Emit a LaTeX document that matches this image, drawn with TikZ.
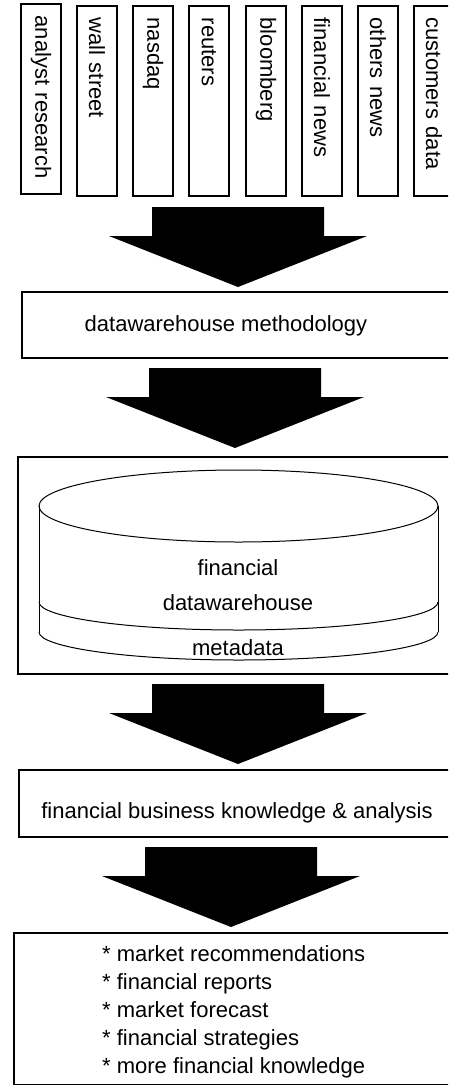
\documentclass[tikz,border=0pt]{standalone}
\usepackage{fontspec}
\setmainfont{Liberation Sans}

\begin{document}
\begin{tikzpicture}[x=1pt,y=-1pt,
		every node/.style={font=\fontsize{22}{28}\selectfont,inner sep=0pt},
		srcbox/.style={draw,line width=1.5pt,rotate=-90,anchor=west,minimum height=40pt,text width=166pt,inner xsep=12pt,align=left},
		box/.style={draw,line width=1.5pt,anchor=north west,minimum width=450pt},
		cyl/.style={line width=1pt},
		fatarrow/.pic={\fill (-86,-80) -- (86,-80) -- (86,-51) -- (129,-51) -- (0,0) -- (-129,-51) -- (-86,-51) -- cycle;}]
		\useasboundingbox (0,0) rectangle (448,1085);
		\clip (0,0) rectangle (448,1085);
		\fill[white] (0,0) rectangle (448,1085);

		%les sources, texte de haut en bas
		\node (src 1) at(41,3) [srcbox] {analyst research};
		\node (src 2) at(97,5) [srcbox] {wall street};
		\node (src 3) at(153,5) [srcbox] {nasdaq};
		\node (src 4) at(209,5) [srcbox] {reuters};
		\node (src 5) at(266,5) [srcbox] {bloomberg};
		\node (src 6) at(322,5) [srcbox] {financial news};
		\node (src 7) at(378,5) [srcbox] {others news};
		\node (src 8) at(434,5) [srcbox] {customers data};

		%les boites, le bord droit sort de l'image
		\node (methodology) at(21,291) [box,minimum height=66pt] {};
		\node (methodology text) at(226,331) [anchor=base] {datawarehouse methodology};

		\node (store) at(17,456) [box,minimum height=217pt] {};

		\node (knowledge) at(18,769) [box,minimum height=67pt] {};
		\node (knowledge text) at(237,818) [anchor=base] {financial business knowledge \& analysis};

		\node (results) at(13,932) [box,minimum height=152pt] {};
		\node (results text) at(102,945) [anchor=north west,align=left] {%
			* market recommendations\\
			* financial reports\\
			* market forecast\\
			* financial strategies\\
			* more financial knowledge};

		%le cylindre
		\draw[cyl] (238.5,506) ellipse [x radius=199.5pt,y radius=36pt];
		\draw[cyl] (39,506) -- (39,632) (438,506) -- (438,632);
		\draw[cyl] (39,602) arc[start angle=180,end angle=360,x radius=199.5pt,y radius=28pt];
		\draw[cyl] (39,632) arc[start angle=180,end angle=360,x radius=199.5pt,y radius=28pt];
		\node (store top) at(238,575) [anchor=base] {financial};
		\node (store mid) at(238,610) [anchor=base] {datawarehouse};
		\node (store meta) at(238,655) [anchor=base] {metadata};

		%les grosses fleches: pointe juste au-dessus de la boite suivante
		\coordinate (tip 1) at(238,287);
		\coordinate (tip 2) at(235,448);
		\coordinate (tip 3) at(238,764);
		\coordinate (tip 4) at(231,927);
		\pic at (tip 1) {fatarrow};
		\pic at (tip 2) {fatarrow};
		\pic at (tip 3) {fatarrow};
		\pic at (tip 4) {fatarrow};
	\end{tikzpicture}
\end{document}
